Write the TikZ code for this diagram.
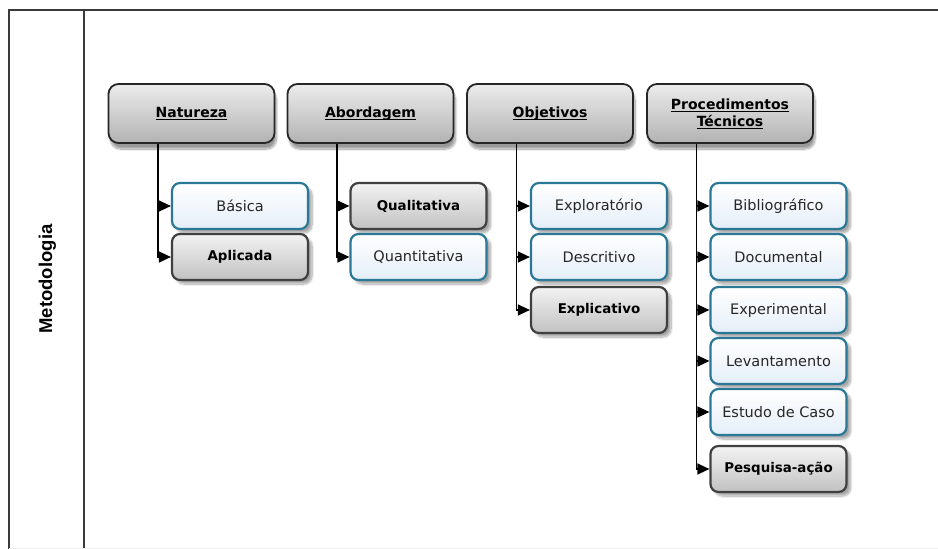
\documentclass[tikz,border=0pt]{standalone}
\usepackage{fontspec}
\setmainfont{DejaVu Sans}
\newfontfamily\labelfont{Liberation Sans}
\usetikzlibrary{arrows.meta,shadows.blur,calc}

% underline at a fixed depth below the baseline
\newcommand\hdul[1]{\setbox0\hbox{#1}\rlap{\rule[-2.6pt]{\wd0}{1pt}}\box0}

\definecolor{frameline}{HTML}{3A3A3A}
\definecolor{tealborder}{HTML}{2A7896}
\definecolor{paleblue}{HTML}{E4EEF8}
\definecolor{faintline}{HTML}{E6E6E6}

\begin{document}
\begin{tikzpicture}[x=1pt,y=-1pt,
  frame/.style={draw=frameline,line width=1.4pt},
  header/.style={rounded corners=10pt,draw=black!85,line width=1.8pt,
    top color=gray!15,bottom color=gray!60,
    minimum width=166pt,minimum height=59pt,inner sep=2pt,align=center,
    font=\fontsize{14}{17}\selectfont\bfseries,
    blur shadow={shadow xshift=2pt,shadow yshift=-6pt,shadow blur steps=10,shadow opacity=40}},
  light/.style={rounded corners=8pt,draw=tealborder,line width=2.2pt,
    top color=white,bottom color=paleblue,text=black!85,
    minimum width=136pt,minimum height=46pt,inner sep=2pt,
    font=\fontsize{14.5}{17}\selectfont,
    blur shadow={shadow xshift=4pt,shadow yshift=-4pt,shadow blur steps=10,shadow opacity=35}},
  dark/.style={rounded corners=8pt,draw=black!75,line width=2.2pt,
    top color=gray!10,bottom color=gray!48,text=black,
    minimum width=136pt,minimum height=46pt,inner sep=2pt,
    font=\fontsize{13.4}{17}\selectfont\bfseries,
    blur shadow={shadow xshift=4pt,shadow yshift=-4pt,shadow blur steps=10,shadow opacity=35}},
  branch/.style={draw=black,line width=1.4pt,-{Triangle[length=12pt,width=11pt]}},
  faint/.style={draw=faintline,line width=1pt}]

\useasboundingbox (0,0) rectangle (938,549);

% table frame
\draw[frame] (9,549) -- (9,10) -- (938,10);
\draw[frame] (84,10) -- (84,549);
\draw[draw=gray!12,line width=1pt] (9,548) -- (938,548);

% row label
\node[rotate=90,font=\labelfont\fontsize{18.5}{22}\selectfont\bfseries] (row) at (47.5,279) {Metodologia};

% category headers
\node[header] (nat) at (191.5,113.5) {\hdul{Natureza}};
\node[header] (abo) at (370.5,113.5) {\hdul{Abordagem}};
\node[header] (obj) at (550,113.5) {\hdul{Objetivos}};
\node[header] (pro) at (730,113.5) {\hdul{Procedimentos}\\\hdul{Técnicos}};

% Natureza
\node[light] (bas) at (240,206) {Básica};
\node[dark]  (apl) at (240,257) {Aplicada};
% Abordagem
\node[dark]  (qual) at (418.5,206) {Qualitativa};
\node[light] (quan) at (418.5,257) {Quantitativa};
% Objetivos
\node[light] (expl) at (599,206) {Exploratório};
\node[light] (desc) at (599,257) {Descritivo};
\node[dark]  (expc) at (599,310) {Explicativo};
% Procedimentos Técnicos
\node[light] (bib) at (778.5,206) {Bibliográfico};
\node[light] (doc) at (778.5,257) {Documental};
\node[light] (exp) at (778.5,310) {Experimental};
\node[light] (lev) at (778.5,361) {Levantamento};
\node[light] (est) at (778.5,412) {Estudo de Caso};
\node[dark]  (pes) at (778.5,469) {Pesquisa-ação};

% faint guide lines above the first child of each column
\foreach \h/\c in {nat/bas,abo/qual,obj/expl,pro/bib}
  \draw[faint] ($(\c.north west)+(2,-3)$) -- ($(\c.north west)+(2,0)$ |- \h.south);

% branches from each header to its children
\foreach \h/\c in {nat/bas,nat/apl,abo/qual,abo/quan,obj/expl,obj/desc,obj/expc,
                   pro/bib,pro/doc,pro/exp,pro/lev,pro/est,pro/pes}
  \draw[branch] ($(\h.south west)+(50.5,0)$) |- (\c.west);

\end{tikzpicture}
\end{document}
